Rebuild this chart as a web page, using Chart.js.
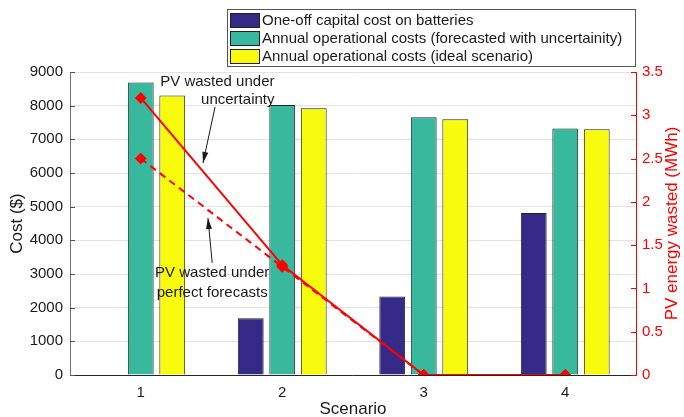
<!DOCTYPE html>
<html>
<head>
  <meta charset="utf-8">
  <script src="https://cdn.jsdelivr.net/npm/chart.js"></script>
  <title>Scenario costs</title>
  <style>
    html, body { margin: 0; padding: 0; background: #fff; }
    #wrap { width: 684px; height: 417px; }
  </style>
</head>
<body>
  <div id="wrap"><canvas id="costChart" width="684" height="417"></canvas></div>

  <script>
    // data
    const scenarios = ['1', '2', '3', '4'];
    const batteryCost = [0, 1685, 2330, 4810];
    const opCostUncertain = [8690, 8020, 7655, 7325];
    const opCostIdeal = [8300, 7925, 7595, 7300];
    const pvWastedUncertain = [3.2, 1.27, 0, 0];
    const pvWastedPerfect = [2.5, 1.25, 0, 0];

    const barLabels = [
      'One-off capital cost on batteries',
      'Annual operational costs (forecasted with uncertainity)',
      'Annual operational costs (ideal scenario)'
    ];
    const barColors = ['#352a87', '#38b99e', '#f9fb0e'];

    // annotation texts, anchored in data units (x = category index, y = cost)
    const notes = [
      { lines: ['PV wasted under', 'uncertainty'], x: 0.945, y: [8700, 8170], align: 'right',
        arrow: [0.525, 7960, 0.44, 6300] },
      { lines: ['PV wasted under', 'perfect forecasts'], x: 0.505, y: [3030, 2440], align: 'center',
        arrow: [0.505, 3330, 0.475, 4660] }
    ];

    const FONT = 'Liberation Sans, Arial, Helvetica, sans-serif';

    // legend box, annotations, inward ticks, right axis title
    const extras = {
      id: 'extras',
      afterDraw(chart) {
        const ctx = chart.ctx;
        const xs = chart.scales.x, ys = chart.scales.y, y1 = chart.scales.y1;
        const area = chart.chartArea;
        ctx.save();

        // inward tick marks
        ctx.lineWidth = 1;
        ctx.strokeStyle = '#555';
        ys.ticks.forEach(t => {
          const py = Math.round(ys.getPixelForValue(t.value)) + 0.5;
          ctx.beginPath(); ctx.moveTo(area.left, py); ctx.lineTo(area.left + 5, py); ctx.stroke();
        });
        ctx.strokeStyle = '#ff0000';
        y1.ticks.forEach(t => {
          const py = Math.round(y1.getPixelForValue(t.value)) + 0.5;
          ctx.beginPath(); ctx.moveTo(area.right, py); ctx.lineTo(area.right - 5, py); ctx.stroke();
        });

        // right axis title, reading bottom to top
        ctx.fillStyle = '#ff0000';
        ctx.font = '17px ' + FONT;
        ctx.textAlign = 'center';
        ctx.textBaseline = 'middle';
        ctx.translate(672, (area.top + area.bottom) / 2);
        ctx.rotate(-Math.PI / 2);
        ctx.fillText('PV energy wasted (MWh)', 0, 0);
        ctx.setTransform(1, 0, 0, 1, 0, 0);

        // annotations with arrows
        ctx.fillStyle = '#1a1a1a';
        ctx.strokeStyle = '#1a1a1a';
        ctx.font = '15px ' + FONT;
        notes.forEach(n => {
          ctx.textAlign = n.align;
          const px = xs.getPixelForValue(n.x);
          n.lines.forEach((s, i) => ctx.fillText(s, px, ys.getPixelForValue(n.y[i])));
          const x0 = xs.getPixelForValue(n.arrow[0]), yA = ys.getPixelForValue(n.arrow[1]);
          const x1 = xs.getPixelForValue(n.arrow[2]), yB = ys.getPixelForValue(n.arrow[3]);
          ctx.beginPath(); ctx.moveTo(x0, yA); ctx.lineTo(x1, yB); ctx.stroke();
          const ang = Math.atan2(yB - yA, x1 - x0);
          ctx.beginPath();
          ctx.moveTo(x1, yB);
          ctx.lineTo(x1 - 11 * Math.cos(ang) + 3 * Math.sin(ang), yB - 11 * Math.sin(ang) - 3 * Math.cos(ang));
          ctx.lineTo(x1 - 11 * Math.cos(ang) - 3 * Math.sin(ang), yB - 11 * Math.sin(ang) + 3 * Math.cos(ang));
          ctx.closePath(); ctx.fill();
        });

        // legend
        ctx.fillStyle = '#fff';
        ctx.fillRect(227.5, 9.5, 408, 57);
        ctx.strokeStyle = '#555';
        ctx.strokeRect(227.5, 9.5, 408, 57);
        ctx.textAlign = 'left';
        barLabels.forEach((lab, i) => {
          const cy = 20 + i * 18;
          ctx.fillStyle = barColors[i];
          ctx.fillRect(230.5, cy - 6.5, 29, 14);
          ctx.strokeStyle = '#222';
          ctx.strokeRect(230.5, cy - 6.5, 29, 14);
          ctx.fillStyle = '#1a1a1a';
          ctx.fillText(lab, 262, cy + 1);
        });
        ctx.restore();
      }
    };

    const barSet = (i, values) => ({
      type: 'bar',
      label: barLabels[i],
      data: values,
      backgroundColor: barColors[i],
      borderColor: '#222',
      borderWidth: 1,
      borderSkipped: 'bottom',
      yAxisID: 'y',
      order: 1,
      categoryPercentage: 0.668,
      barPercentage: 0.82
    });

    new Chart(document.getElementById('costChart'), {
      type: 'bar',
      data: {
        labels: scenarios,
        datasets: [
          barSet(0, batteryCost),
          barSet(1, opCostUncertain),
          barSet(2, opCostIdeal),
          {
            type: 'line', label: 'PV wasted under uncertainty', data: pvWastedUncertain,
            borderColor: '#ff0000', backgroundColor: '#ff0000', borderWidth: 2,
            pointStyle: 'rectRot', pointRadius: 4.5, yAxisID: 'y1', order: 0, clip: 0
          },
          {
            type: 'line', label: 'PV wasted under perfect forecasts', data: pvWastedPerfect,
            borderColor: '#ff0000', backgroundColor: '#ff0000', borderWidth: 2, borderDash: [7, 5],
            pointStyle: 'rectRot', pointRadius: 4.5, yAxisID: 'y1', order: 0, clip: 0
          }
        ]
      },
      options: {
        responsive: false,
        animation: false,
        layout: { padding: { top: 72 } },
        plugins: { legend: { display: false }, tooltip: { enabled: false } },
        scales: {
          x: {
            afterFit: s => { s.height = 42; },
            grid: { display: false, drawTicks: false },
            border: { color: '#262626', width: 1 },
            ticks: { color: '#1a1a1a', font: { family: FONT, size: 15 }, padding: 9 },
            title: { display: true, text: 'Scenario', color: '#1a1a1a', font: { family: FONT, size: 17 }, padding: { top: 0, bottom: -3 } }
          },
          y: {
            position: 'left',
            min: 0, max: 9000,
            afterFit: s => { s.width = 70; },
            grid: { color: '#e3e3e3', drawTicks: false },
            border: { color: '#6e6e6e', width: 1 },
            ticks: { stepSize: 1000, color: '#1a1a1a', font: { family: FONT, size: 15 }, padding: 7,
                     callback: v => String(v) },
            title: { display: true, text: 'Cost ($)', color: '#1a1a1a', font: { family: FONT, size: 17 }, padding: { top: 7, bottom: 0 } }
          },
          y1: {
            position: 'right',
            min: 0, max: 3.5,
            afterFit: s => { s.width = 48; },
            grid: { display: false, drawTicks: false },
            border: { color: '#ff0000', width: 1 },
            ticks: { stepSize: 0.5, color: '#ff0000', font: { family: FONT, size: 15 }, padding: 6,
                     callback: v => String(v) }
          }
        }
      },
      plugins: [extras]
    });
  </script>
</body>
</html>
